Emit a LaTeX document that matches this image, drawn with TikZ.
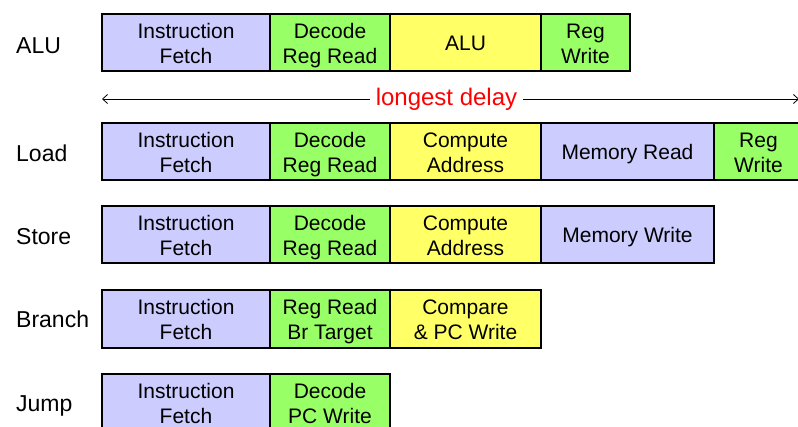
\documentclass[tikz,border=0pt]{standalone}
\usepackage{fontspec}
\setmainfont{Liberation Sans}
\usetikzlibrary{arrows.meta}
\definecolor{lav}{HTML}{CCCCFF}
\definecolor{grn}{HTML}{99FF66}
\definecolor{ylw}{HTML}{FFFF66}
\definecolor{dred}{HTML}{FF0000}
\begin{document}
\begin{tikzpicture}[x=1pt,y=-1pt,
  stage/.style={draw=black,line width=1.3pt,inner sep=0pt,outer sep=0pt,anchor=north west,
     font=\fontsize{21}{25}\selectfont},
  rowlabel/.style={anchor=base west,inner sep=0pt,font=\fontsize{23}{25}\selectfont},
  tl/.style={font=\fontsize{24}{25}\selectfont,text=dred,inner xsep=6pt,inner ysep=1pt}]
\useasboundingbox (0,0) rectangle (798,427);
\clip (0,0) rectangle (798,427);
\newcommand{\stg}[7]{\node[stage,fill=#6,minimum width=#3,minimum height=#4] (#1) at (#2,#5)
  {\raisebox{-3.5pt}[\height][\depth]{\begin{tabular}{@{}c@{}}#7\end{tabular}}};}
% ALU row
\node[rowlabel] (lalu) at (16,53.3) {ALU};
\stg{a1}{102}{168}{57}{14}{lav}{Instruction\\Fetch}
\stg{a2}{270}{120}{57}{14}{grn}{Decode\\Reg Read}
\stg{a3}{390}{151}{57}{14}{ylw}{ALU}
\stg{a4}{541}{89}{57}{14}{grn}{Reg\\Write}
% longest delay
\node[tl] (ld) at (446.5,99) {longest delay};
\coordinate (al) at (102,99);
\coordinate (ar) at (799,99);
\draw[-{Straight Barb[length=5pt,width=9pt]},line width=0.8pt] (ld.west) -- (al);
\draw[-{Straight Barb[length=5pt,width=9pt]},line width=0.8pt] (ld.east) -- (ar);
% Load row
\node[rowlabel] (lload) at (16,161.7) {Load};
\stg{l1}{102}{168}{57}{123}{lav}{Instruction\\Fetch}
\stg{l2}{270}{120}{57}{123}{grn}{Decode\\Reg Read}
\stg{l3}{390}{151}{57}{123}{ylw}{Compute\\Address}
\stg{l4}{541}{173}{57}{123}{lav}{Memory Read}
\stg{l5}{714}{89}{57}{123}{grn}{Reg\\Write}
% Store row
\node[rowlabel] (lstore) at (16,244.7) {Store};
\stg{s1}{102}{168}{57}{206}{lav}{Instruction\\Fetch}
\stg{s2}{270}{120}{57}{206}{grn}{Decode\\Reg Read}
\stg{s3}{390}{151}{57}{206}{ylw}{Compute\\Address}
\stg{s4}{541}{173}{57}{206}{lav}{Memory Write}
% Branch row
\node[rowlabel] (lbr) at (16,328) {Branch};
\stg{b1}{102}{168}{58}{290}{lav}{Instruction\\Fetch}
\stg{b2}{270}{120}{58}{290}{grn}{Reg Read\\Br Target}
\stg{b3}{390}{151}{58}{290}{ylw}{Compare\\\& PC Write}
% Jump row
\node[rowlabel] (lj) at (16,411.7) {Jump};
\stg{j1}{102}{168}{58}{374}{lav}{Instruction\\Fetch}
\stg{j2}{270}{120}{58}{374}{grn}{Decode\\PC Write}
\end{tikzpicture}
\end{document}
